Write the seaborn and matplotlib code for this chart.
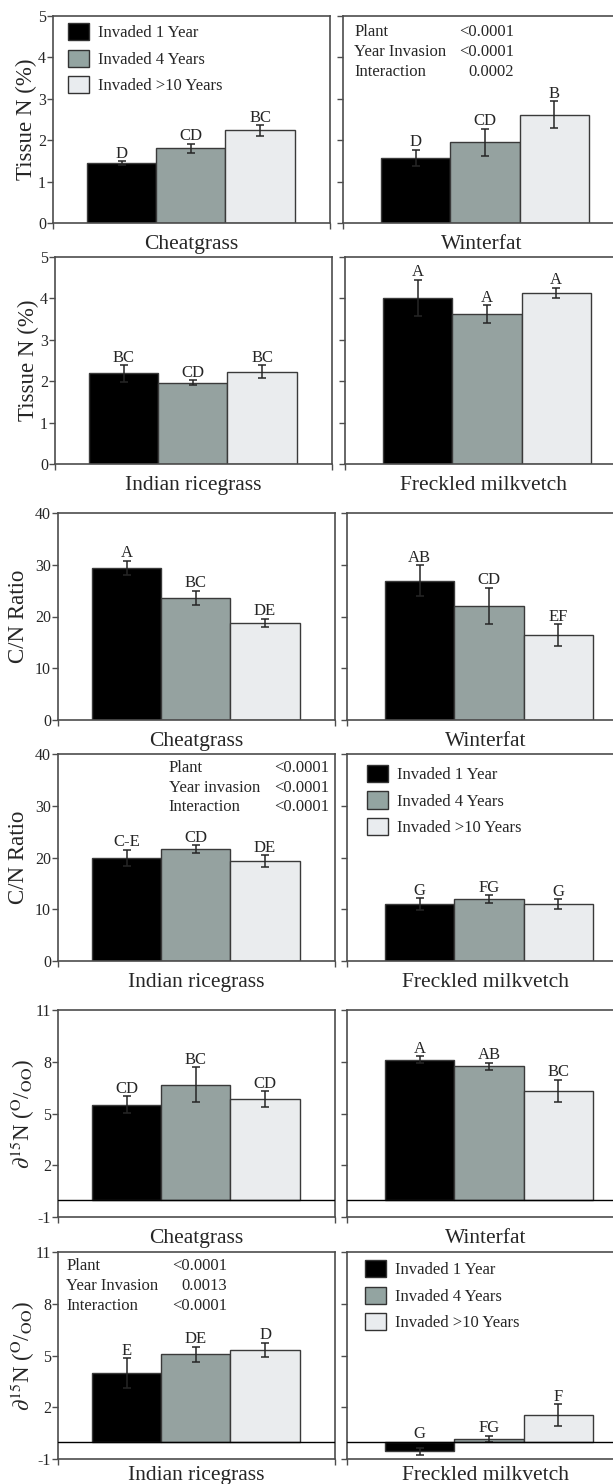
import pandas as pd
import seaborn as sns
import matplotlib.pyplot as plt
from matplotlib.patches import Patch

# Style: plain boxes, serif text like the journal figure
sns.set_style("ticks")
plt.rcParams['font.family'] = ['Liberation Serif', 'DejaVu Serif']
plt.rcParams['mathtext.fontset'] = 'stix'
plt.rcParams['axes.unicode_minus'] = False

groups = ['Invaded 1 Year', 'Invaded 4 Years', 'Invaded >10 Years']
bar_colors = ['#000000', '#93a4a1', '#e9ecef']

# --- Tissue N (%) ---
n_cheatgrass = [1.45, 1.80, 2.24]
n_cheatgrass_se = [0.05, 0.12, 0.13]
n_cheatgrass_let = ['D', 'CD', 'BC']
n_winterfat = [1.57, 1.95, 2.62]
n_winterfat_se = [0.20, 0.33, 0.33]
n_winterfat_let = ['D', 'CD', 'B']
n_ricegrass = [2.19, 1.96, 2.23]
n_ricegrass_se = [0.20, 0.06, 0.16]
n_ricegrass_let = ['BC', 'CD', 'BC']
n_milkvetch = [4.01, 3.62, 4.13]
n_milkvetch_se = [0.44, 0.21, 0.13]
n_milkvetch_let = ['A', 'A', 'A']

# --- C/N ratio ---
cn_cheatgrass = [29.4, 23.6, 18.8]
cn_cheatgrass_se = [1.4, 1.4, 0.8]
cn_cheatgrass_let = ['A', 'BC', 'DE']
cn_winterfat = [26.9, 22.1, 16.4]
cn_winterfat_se = [3.0, 3.5, 2.1]
cn_winterfat_let = ['AB', 'CD', 'EF']
cn_ricegrass = [19.9, 21.6, 19.3]
cn_ricegrass_se = [1.6, 0.75, 1.2]
cn_ricegrass_let = ['C-E', 'CD', 'DE']
cn_milkvetch = [11.0, 12.0, 11.0]
cn_milkvetch_se = [1.2, 0.75, 0.9]
cn_milkvetch_let = ['G', 'FG', 'G']

# --- d15N (per mil) ---
d15_cheatgrass = [5.51, 6.68, 5.83]
d15_cheatgrass_se = [0.49, 1.0, 0.48]
d15_cheatgrass_let = ['CD', 'BC', 'CD']
d15_winterfat = [8.12, 7.75, 6.33]
d15_winterfat_se = [0.2, 0.2, 0.64]
d15_winterfat_let = ['A', 'AB', 'BC']
d15_ricegrass = [3.96, 5.07, 5.32]
d15_ricegrass_se = [0.87, 0.44, 0.43]
d15_ricegrass_let = ['E', 'DE', 'D']
d15_milkvetch = [-0.56, 0.17, 1.55]
d15_milkvetch_se = [0.2, 0.18, 0.62]
d15_milkvetch_let = ['G', 'FG', 'F']

# ANOVA p-values shown as text in three panels
stat_names_1 = ['Plant', 'Year Invasion', 'Interaction']
stat_vals_1 = ['<0.0001', '<0.0001', '0.0002']
stat_names_2 = ['Plant', 'Year invasion', 'Interaction']
stat_vals_2 = ['<0.0001', '<0.0001', '<0.0001']
stat_names_3 = ['Plant', 'Year Invasion', 'Interaction']
stat_vals_3 = ['<0.0001', '0.0013', '<0.0001']

N_LABEL = 'Tissue N (%)'
CN_LABEL = 'C/N Ratio'
D15_LABEL = r'$\partial^{15}$N ($^{\mathrm{O}}$/$_{\mathrm{OO}}$)'

# layout in pixels of the 613x1484 figure
W, H = 613, 1484
ROW_TOPS = [16, 257, 513, 754, 1010, 1252]
LEFT_XS = [53, 55, 58, 58, 58, 58]
RIGHT_XS = [343, 345, 347, 347, 347, 347]
XLABEL_PADS = [3.5, 3.5, 3.5, 3.5, 3.5, 0.0]
AX_H, AX_W = 207, 277
EDGE = '#4d4d4d'


def make_ax(fig, row, col):
    x0 = LEFT_XS[row] if col == 0 else RIGHT_XS[row]
    top = ROW_TOPS[row]
    return fig.add_axes([x0 / W, 1 - (top + AX_H) / H, AX_W / W, AX_H / H])


def draw_panel(ax, vals, se, letters, plant, ylim, yticks, ylabel, label_x, left, xpad):
    df = pd.DataFrame({'group': groups, 'value': vals})
    sns.barplot(data=df, x='group', y='value', hue='group', palette=bar_colors,
                width=1.0, edgecolor='#3a3a3a', linewidth=1.0, errorbar=None,
                legend=False, ax=ax)
    centers = [p.get_x() + p.get_width() / 2 for p in ax.patches]
    ax.errorbar(centers, vals, yerr=se, fmt='none', ecolor='#262626',
                elinewidth=1.1, capsize=3, capthick=1.1, zorder=5)
    for x, v, e, lab in zip(centers, vals, se, letters):
        ax.annotate(lab, (x, max(v + e, 0)), xytext=(0, -0.5), textcoords='offset points',
                    ha='center', va='bottom', fontsize=12)
    if ylim[0] < 0:
        ax.axhline(0, color='black', lw=1.0, zorder=6)

    xl = (-0.99, 3.01) if left else (-1.05, 2.95)
    ax.set_xlim(xl)
    ax.set_ylim(ylim)
    ax.set_yticks(yticks)
    ax.set_xticks(list(xl))
    ax.set_xticklabels(['', ''])
    ax.tick_params(axis='both', direction='out', length=4, width=1, color=EDGE,
                   labelsize=11.5, pad=1)
    if left:
        ax.set_ylabel(ylabel, fontsize=16.5)
        ax.yaxis.set_label_coords(label_x, 0.5)
    else:
        ax.set_ylabel('')
        ax.tick_params(axis='y', labelleft=False)
    ax.set_xlabel(plant, fontsize=15.5, labelpad=xpad)
    for s in ax.spines.values():
        s.set_color(EDGE)
        s.set_linewidth(1.2)


def add_legend(ax, x, y):
    handles = [Patch(facecolor=c, edgecolor='#333333', linewidth=1.0) for c in bar_colors]
    ax.legend(handles, groups, loc='upper left', bbox_to_anchor=(x, y), frameon=False,
              fontsize=12, handlelength=1.25, handleheight=1.2, handletextpad=0.55,
              labelspacing=0.5, borderpad=0, borderaxespad=0)


def add_stats(ax, names, vals, x_name, x_val, ys):
    for n, v, y in zip(names, vals, ys):
        ax.text(x_name, y, n, transform=ax.transAxes, ha='left', va='center', fontsize=12)
        ax.text(x_val, y, v, transform=ax.transAxes, ha='right', va='center', fontsize=12)


def main():
    fig = plt.figure(figsize=(W / 100, H / 100), dpi=100)

    n_lim, n_ticks = (0, 5), [0, 1, 2, 3, 4, 5]
    cn_lim, cn_ticks = (0, 40), [0, 10, 20, 30, 40]
    d_lim, d_ticks = (-1, 11), [-1, 2, 5, 8, 11]

    panels = [
        (0, 0, n_cheatgrass, n_cheatgrass_se, n_cheatgrass_let, 'Cheatgrass', n_lim, n_ticks, N_LABEL),
        (0, 1, n_winterfat, n_winterfat_se, n_winterfat_let, 'Winterfat', n_lim, n_ticks, N_LABEL),
        (1, 0, n_ricegrass, n_ricegrass_se, n_ricegrass_let, 'Indian ricegrass', n_lim, n_ticks, N_LABEL),
        (1, 1, n_milkvetch, n_milkvetch_se, n_milkvetch_let, 'Freckled milkvetch', n_lim, n_ticks, N_LABEL),
        (2, 0, cn_cheatgrass, cn_cheatgrass_se, cn_cheatgrass_let, 'Cheatgrass', cn_lim, cn_ticks, CN_LABEL),
        (2, 1, cn_winterfat, cn_winterfat_se, cn_winterfat_let, 'Winterfat', cn_lim, cn_ticks, CN_LABEL),
        (3, 0, cn_ricegrass, cn_ricegrass_se, cn_ricegrass_let, 'Indian ricegrass', cn_lim, cn_ticks, CN_LABEL),
        (3, 1, cn_milkvetch, cn_milkvetch_se, cn_milkvetch_let, 'Freckled milkvetch', cn_lim, cn_ticks, CN_LABEL),
        (4, 0, d15_cheatgrass, d15_cheatgrass_se, d15_cheatgrass_let, 'Cheatgrass', d_lim, d_ticks, D15_LABEL),
        (4, 1, d15_winterfat, d15_winterfat_se, d15_winterfat_let, 'Winterfat', d_lim, d_ticks, D15_LABEL),
        (5, 0, d15_ricegrass, d15_ricegrass_se, d15_ricegrass_let, 'Indian ricegrass', d_lim, d_ticks, D15_LABEL),
        (5, 1, d15_milkvetch, d15_milkvetch_se, d15_milkvetch_let, 'Freckled milkvetch', d_lim, d_ticks, D15_LABEL),
    ]
    # ylabel x (axes fraction) per metric, so labels sit close to the tick numbers
    label_x = {N_LABEL: -0.058, CN_LABEL: -0.105, D15_LABEL: -0.076}

    axes = {}
    for row, col, vals, se, lets, plant, lim, ticks, ylab in panels:
        ax = make_ax(fig, row, col)
        draw_panel(ax, vals, se, lets, plant, lim, ticks, ylab, label_x[ylab], col == 0,
                   XLABEL_PADS[row])
        axes[(row, col)] = ax

    # legends
    add_legend(axes[(0, 0)], 0.054, 0.966)
    add_legend(axes[(3, 1)], 0.072, 0.947)
    add_legend(axes[(5, 1)], 0.066, 0.961)

    # ANOVA tables
    add_stats(axes[(0, 1)], stat_names_1, stat_vals_1, 0.04, 0.617, [0.923, 0.826, 0.729])
    add_stats(axes[(3, 0)], stat_names_2, stat_vals_2, 0.40, 0.98, [0.932, 0.836, 0.744])
    add_stats(axes[(5, 0)], stat_names_3, stat_vals_3, 0.03, 0.61, [0.932, 0.836, 0.739])

    fig.savefig('out.png', dpi=100)
    plt.close(fig)


if __name__ == "__main__":
    main()
